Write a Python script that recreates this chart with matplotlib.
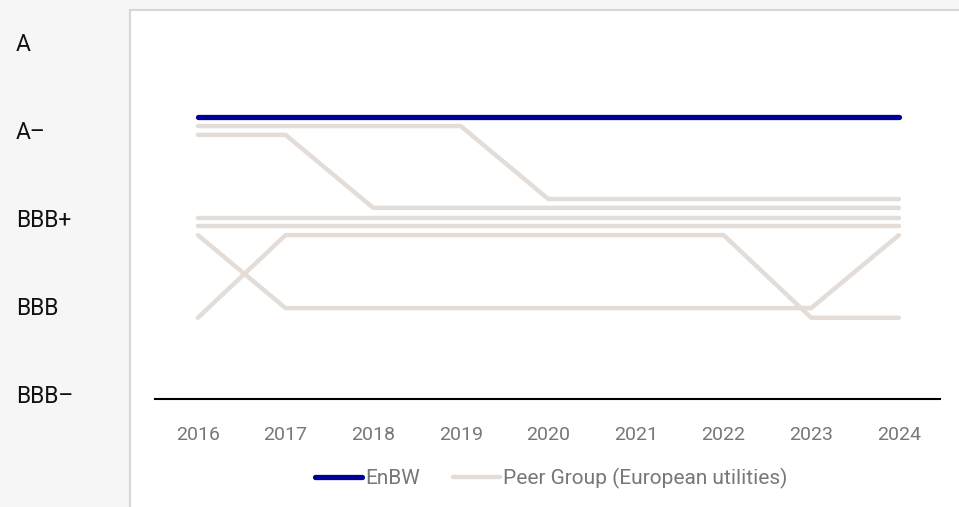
import numpy as np
import matplotlib
matplotlib.use("Agg")
import matplotlib.pyplot as plt
import matplotlib.transforms as mtransforms
from matplotlib.patches import Rectangle
from matplotlib.lines import Line2D

plt.rcParams['font.family'] = ['Roboto', 'DejaVu Sans']

# rating scale (notches) and displayed levels (slightly offset so lines don't overlap)
ratings = ["BBB\u2013", "BBB", "BBB+", "A\u2013", "A"]
rating_pos = [0, 1, 2, 3, 4]
years = [2016, 2017, 2018, 2019, 2020, 2021, 2022, 2023, 2024]

enbw = [3.17, 3.17, 3.17, 3.17, 3.17, 3.17, 3.17, 3.17, 3.17]
peer_1 = [3.07, 3.07, 3.07, 3.07, 2.24, 2.24, 2.24, 2.24, 2.24]
peer_2 = [2.97, 2.97, 2.14, 2.14, 2.14, 2.14, 2.14, 2.14, 2.14]
peer_3 = [2.03, 2.03, 2.03, 2.03, 2.03, 2.03, 2.03, 2.03, 2.03]
peer_4 = [1.93, 1.93, 1.93, 1.93, 1.93, 1.93, 1.93, 1.93, 1.93]
peer_5 = [1.83, 1.00, 1.00, 1.00, 1.00, 1.00, 1.00, 1.00, 1.83]
peer_6 = [0.89, 1.83, 1.83, 1.83, 1.83, 1.83, 1.83, 0.89, 0.89]
peers = [peer_1, peer_2, peer_3, peer_4, peer_5, peer_6]

navy = "#000099"
beige = "#e4dcd6"
grey_txt = "#777777"

W, H = 959, 507
fig = plt.figure(figsize=(W / 100, H / 100), dpi=100)
fig.patch.set_facecolor("#f6f6f6")

# white panel with thin grey edge on left/top
fig.add_artist(Rectangle((130 / W, 0), 1 - 130 / W, (H - 10) / H,
                         transform=fig.transFigure, facecolor="white",
                         edgecolor="none", zorder=0))
fig.add_artist(Line2D([129.5 / W, 129.5 / W], [0, (H - 9.5) / H],
                      transform=fig.transFigure, color="#d6d6d6", lw=1.5))
fig.add_artist(Line2D([129.5 / W, 1], [(H - 9.5) / H, (H - 9.5) / H],
                      transform=fig.transFigure, color="#d6d6d6", lw=1.5))

ax = fig.add_axes([155 / W, (H - 399) / H, (940 - 155) / W, (399 - 10) / H])
ax.set_facecolor("none")

for p in peers:
    ax.plot(years, p, color=beige, lw=3.2, solid_capstyle="round",
            solid_joinstyle="round", zorder=2)
ax.plot(years, enbw, color=navy, lw=3.8, solid_capstyle="round", zorder=3)

ax.set_xlim(2015.51, 2024.47)
ax.set_ylim(-0.034, 4.39)

for s in ["top", "right", "left"]:
    ax.spines[s].set_visible(False)
ax.spines["bottom"].set_color("black")
ax.spines["bottom"].set_linewidth(1.5)
ax.set_yticks([])
ax.set_xticks(years)
ax.set_xticklabels([str(y) for y in years], fontsize=14, color=grey_txt)
ax.tick_params(axis="x", length=0, pad=19.5)

# rating labels in the left grey column
trans = mtransforms.blended_transform_factory(fig.transFigure, ax.transData)
for r, pos in zip(ratings, rating_pos):
    ax.text(16 / W, pos, r, transform=trans, ha="left", va="center",
            fontsize=16.5, color="#111111", clip_on=False)

handles = [Line2D([], [], color=navy, lw=3.8, solid_capstyle="round"),
           Line2D([], [], color=beige, lw=3.2, solid_capstyle="round")]
fig.legend(handles, ["EnBW", "Peer Group (European utilities)"],
           loc="center", bbox_to_anchor=(551 / W, (H - 478) / H), ncol=2,
           frameon=False, fontsize=15, labelcolor=grey_txt,
           handlelength=2.25, handletextpad=0.15, columnspacing=1.6)

fig.savefig("out.png", dpi=100, facecolor=fig.get_facecolor())
